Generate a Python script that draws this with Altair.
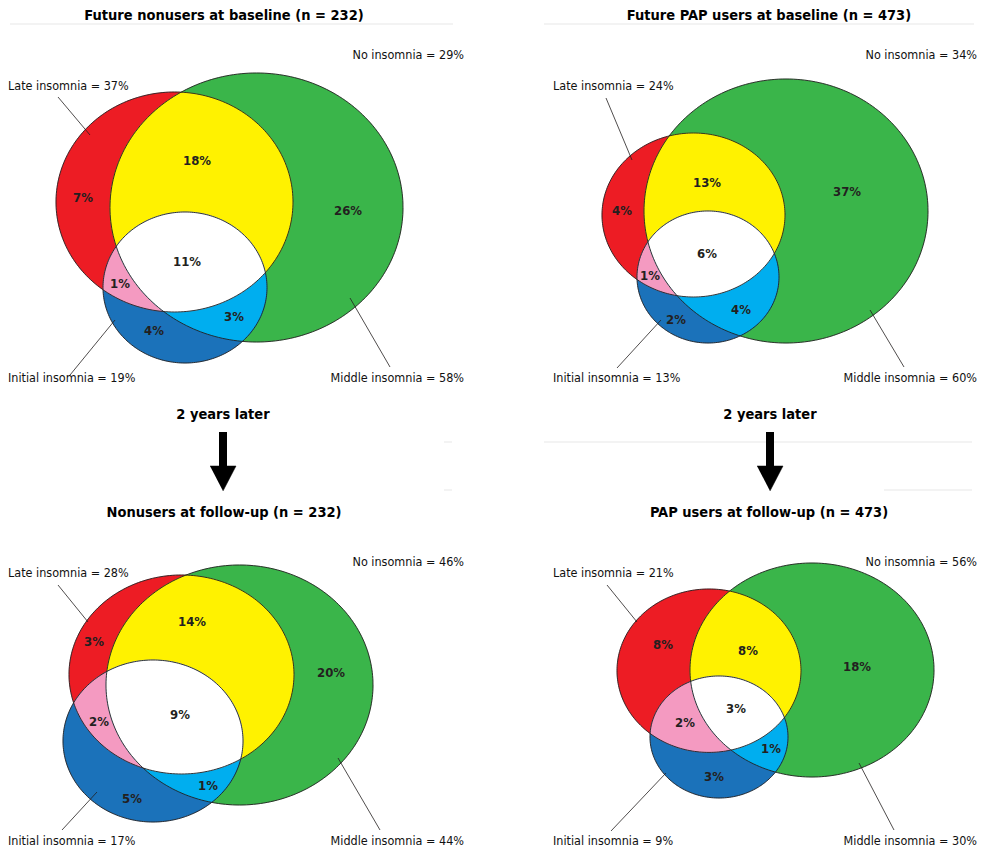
import altair as alt
import numpy as np
import pandas as pd

# ---------------- data ----------------
panel_ids = ["tl", "tr", "bl", "br"]
panel_titles = [
    "Future nonusers at baseline (n = 232)",
    "Future PAP users at baseline (n = 473)",
    "Nonusers at follow-up (n = 232)",
    "PAP users at follow-up (n = 473)",
]
late_pct = [37, 24, 28, 21]
middle_pct = [58, 60, 44, 30]
initial_pct = [19, 13, 17, 9]
none_pct = [29, 34, 46, 56]

region_names = ["Late only", "Middle only", "Initial only",
                "Late+Middle", "Late+Initial", "Middle+Initial", "All three"]
region_pct = {
    "tl": [7, 26, 4, 18, 1, 3, 11],
    "tr": [4, 37, 2, 13, 1, 4, 6],
    "bl": [3, 20, 5, 14, 2, 1, 9],
    "br": [8, 18, 3, 8, 2, 1, 3],
}

# ---------------- layout / geometry (page pixels) ----------------
W, H = 970, 843
X0, Y0 = 8, 8

ellipse_geom = {  # cx, cy, rx, ry
    "tl": {"Late": (174.5, 202, 118.5, 110), "Middle": (256.5, 207.5, 146.5, 134.5), "Initial": (185, 287.5, 82, 75.5)},
    "tr": {"Late": (693.5, 215, 91.5, 82), "Middle": (786, 211, 142, 132), "Initial": (708, 277, 71, 66)},
    "bl": {"Late": (181.5, 674.5, 112.5, 99.5), "Middle": (239.5, 685, 133.5, 120), "Initial": (153, 741, 90, 81)},
    "br": {"Late": (709, 670.7, 92, 81.7), "Middle": (812, 670, 122, 107), "Initial": (719, 737, 69, 61)},
}
region_label_pos = {
    "tl": [(83, 198), (348, 211), (154, 331), (197, 161), (120, 284), (234, 317), (187, 262)],
    "tr": [(622, 211), (847, 192), (676, 320), (707, 183), (650, 276), (741, 310), (707, 254)],
    "bl": [(94, 642), (331, 673), (132, 799), (192, 622), (99, 722), (208, 786), (180, 715)],
    "br": [(663, 645), (857, 667), (714, 777), (748, 651), (685, 723), (771, 749), (736, 709)],
}
panel_left = {"tl": 8, "tr": 553, "bl": 8, "br": 553}
panel_right = {"tl": 464, "tr": 977, "bl": 464, "br": 977}
panel_top_y = {"tl": 55, "tr": 55, "bl": 562, "br": 562}
panel_late_y = {"tl": 86, "tr": 86, "bl": 573, "br": 573}
panel_bottom_y = {"tl": 378, "tr": 378, "bl": 841, "br": 841}
title_pos = {"tl": (224, 16), "tr": (769, 16), "bl": (224, 513), "br": (769, 513)}
leaders = {
    "tl": [(58, 97, 90, 135), (70, 375, 115, 320), (390, 367, 350, 298)],
    "tr": [(606, 98, 632, 160), (617, 368, 661, 320), (904, 367, 870, 310)],
    "bl": [(58, 585, 88, 622), (62, 830, 97, 792), (380, 830, 338, 758)],
    "br": [(607, 585, 637, 622), (611, 831, 666, 773), (894, 830, 859, 763)],
}
later_text = "2 years later"
arrow_cx = [223, 770]

colors = {
    "Late": "#ED1C24", "Middle": "#3AB54A", "Initial": "#1B72BA",
    "Late+Middle": "#FFF200", "Late+Initial": "#F49AC1",
    "Middle+Initial": "#00AEEF", "All three": "#FFFFFF",
}

LABEL_FONT = "DejaVu Sans Condensed, Liberation Sans Narrow, sans-serif"
PCT_FONT = "DejaVu Sans Condensed, Liberation Sans Narrow, sans-serif"


# ---------------- geometry helpers ----------------
def ellipse_pts(cx, cy, rx, ry, n=240):
    t = np.linspace(0, 2 * np.pi, n, endpoint=False)
    return [(cx + rx * np.cos(a), cy + ry * np.sin(a)) for a in t]


def clip(subject, clipper):
    def inside(p, a, b):
        return (b[0] - a[0]) * (p[1] - a[1]) - (b[1] - a[1]) * (p[0] - a[0]) >= 0

    def inter(s, e, a, b):
        x1, y1 = s; x2, y2 = e; x3, y3 = a; x4, y4 = b
        den = (x1 - x2) * (y3 - y4) - (y1 - y2) * (x3 - x4)
        t = ((x1 - x3) * (y3 - y4) - (y1 - y3) * (x3 - x4)) / den
        return (x1 + t * (x2 - x1), y1 + t * (y2 - y1))

    out = list(subject)
    for i in range(len(clipper)):
        a, b = clipper[i - 1], clipper[i]
        inp, out = out, []
        if not inp:
            break
        s = inp[-1]
        for e in inp:
            if inside(e, a, b):
                if not inside(s, a, b):
                    out.append(inter(s, e, a, b))
                out.append(e)
            elif inside(s, a, b):
                out.append(inter(s, e, a, b))
            s = e
    return out


poly_rows = []
outline_rows = []
for p in panel_ids:
    E = {k: ellipse_pts(*v) for k, v in ellipse_geom[p].items()}
    shapes = {
        "Late": E["Late"], "Middle": E["Middle"], "Initial": E["Initial"],
        "Late+Middle": clip(E["Late"], E["Middle"]),
        "Late+Initial": clip(E["Late"], E["Initial"]),
        "Middle+Initial": clip(E["Middle"], E["Initial"]),
        "All three": clip(clip(E["Late"], E["Middle"]), E["Initial"]),
    }
    for name, pts in shapes.items():
        for i, (x, y) in enumerate(pts):
            poly_rows.append({"panel": p, "region": name, "i": i, "x": x, "y": y})
    for k in ["Late", "Middle", "Initial"]:
        pts = E[k] + [E[k][0]]
        for i, (x, y) in enumerate(pts):
            outline_rows.append({"key": p + k, "i": i, "x": x, "y": y})
poly_df = pd.DataFrame(poly_rows)
outline_df = pd.DataFrame(outline_rows)

pct_rows, lab_rows, title_rows, lead_rows = [], [], [], []
for j, p in enumerate(panel_ids):
    for k, rn in enumerate(region_names):
        x, y = region_label_pos[p][k]
        pct_rows.append({"x": x, "y": y, "t": f"{region_pct[p][k]}%"})
    lab_rows += [
        {"x": panel_right[p], "y": panel_top_y[p], "t": f"No insomnia = {none_pct[j]}%", "a": "right"},
        {"x": panel_left[p], "y": panel_late_y[p], "t": f"Late insomnia = {late_pct[j]}%", "a": "left"},
        {"x": panel_left[p], "y": panel_bottom_y[p], "t": f"Initial insomnia = {initial_pct[j]}%", "a": "left"},
        {"x": panel_right[p], "y": panel_bottom_y[p], "t": f"Middle insomnia = {middle_pct[j]}%", "a": "right"},
    ]
    tx, ty = title_pos[p]
    title_rows.append({"x": tx, "y": ty, "t": panel_titles[j]})
    for (a, b, c, d) in leaders[p]:
        lead_rows.append({"x": a, "y": b, "x2": c, "y2": d})
for cx in arrow_cx:
    title_rows.append({"x": cx, "y": 415, "t": later_text})

pct_df = pd.DataFrame(pct_rows)
lab_df = pd.DataFrame(lab_rows)
title_df = pd.DataFrame(title_rows)
lead_df = pd.DataFrame(lead_rows)

shaft_df = pd.DataFrame([{"x": cx, "y": 432, "y2": 468} for cx in arrow_cx])
head_rows = []
for n, cx in enumerate(arrow_cx):
    for i, (x, y) in enumerate([(cx - 13, 466), (cx + 13, 466), (cx, 491)]):
        head_rows.append({"a": n, "i": i, "x": x, "y": y})
head_df = pd.DataFrame(head_rows)

faint_df = pd.DataFrame([
    {"x": 10, "x2": 453, "y": 24}, {"x": 544, "x2": 974, "y": 24},
    {"x": 544, "x2": 972, "y": 442}, {"x": 884, "x2": 972, "y": 490},
    {"x": 444, "x2": 452, "y": 442}, {"x": 444, "x2": 452, "y": 490},
])

# ---------------- chart ----------------
xs = alt.Scale(domain=[X0, X0 + W], nice=False, zero=False)
ys = alt.Scale(domain=[Y0, Y0 + H], reverse=True, nice=False, zero=False)
X = alt.X("x:Q", scale=xs, axis=None)
Y = alt.Y("y:Q", scale=ys, axis=None)

layers = []
layers.append(alt.Chart(faint_df).mark_rule(color="#efefef", strokeWidth=1.5).encode(X, Y, x2="x2:Q"))
for rn in ["Late", "Middle", "Initial", "Late+Middle", "Late+Initial", "Middle+Initial", "All three"]:
    d = poly_df[poly_df.region == rn]
    layers.append(
        alt.Chart(d).mark_line(fill=colors[rn], stroke=colors[rn], strokeWidth=0.3)
        .encode(X, Y, order="i:Q", detail="panel:N")
    )
layers.append(
    alt.Chart(outline_df).mark_line(stroke="#231F20", strokeWidth=0.9)
    .encode(X, Y, order="i:Q", detail="key:N")
)
layers.append(alt.Chart(lead_df).mark_rule(color="#231F20", strokeWidth=0.8).encode(X, Y, x2="x2:Q", y2="y2:Q"))
layers.append(alt.Chart(pct_df).mark_text(font=PCT_FONT, fontSize=13, fontWeight="bold", color="#231F20")
              .encode(X, Y, text="t:N"))
for al in ["left", "right"]:
    layers.append(alt.Chart(lab_df[lab_df.a == al]).mark_text(font=LABEL_FONT, fontSize=12.5, align=al, color="#111111")
                  .encode(X, Y, text="t:N"))
layers.append(alt.Chart(title_df).mark_text(font=LABEL_FONT, fontSize=14.5, fontWeight="bold", color="#000000")
              .encode(X, Y, text="t:N"))
layers.append(alt.Chart(shaft_df).mark_rule(color="#000000", strokeWidth=8).encode(X, Y, y2="y2:Q"))
layers.append(alt.Chart(head_df).mark_line(fill="#000000", stroke="#000000", strokeWidth=0.5)
              .encode(X, Y, order="i:Q", detail="a:N"))

chart = alt.layer(*layers).properties(
    width=W, height=H, padding=0, autosize=alt.AutoSizeParams(type="none")
).configure_view(stroke=None)

chart.save("out.html", embed_options={"renderer": "svg", "actions": False})
